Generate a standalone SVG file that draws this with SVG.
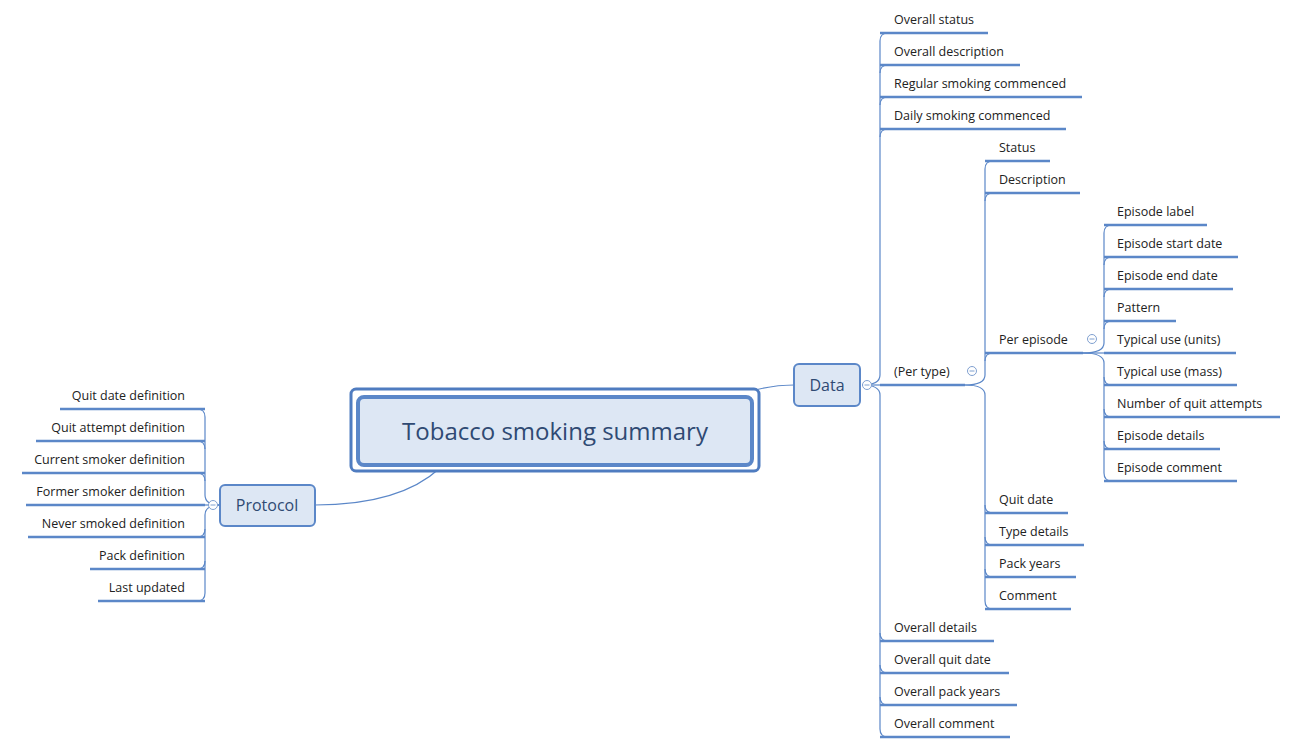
<svg xmlns="http://www.w3.org/2000/svg" width="1303" height="756" viewBox="0 0 1303 756">
<style>
.c{fill:none;stroke:#5b87c8;stroke-width:1.2}
.u{fill:none;stroke:#5b87c8;stroke-width:2.5}
.t{font-family:"Open Sans","DejaVu Sans",sans-serif;font-size:12.5px;fill:#222}
.r{text-anchor:end}
.n{fill:#dde7f4;stroke:#5b87c8;stroke-width:2}
.nt{font-family:"Open Sans","DejaVu Sans",sans-serif;font-size:16px;fill:#2f4a73;text-anchor:middle}
.k{fill:#fff;stroke:#7fa0d0;stroke-width:1}
</style>
<rect width="1303" height="756" fill="#fff"/>
<g id="connectors">
<path class="c" d="M755 390Q775 385 794 385"/>
<path class="c" d="M440 468Q400 505 315 505"/>
<g class="c">
<path d="M862 385Q880 385 880 375V41Q880 33 888 33"/><path d="M880 73Q880 65 888 65"/><path d="M880 105Q880 97 888 97"/><path d="M880 137Q880 129 888 129"/>
<path d="M862 385H880"/>
<path d="M862 385Q880 385 880 395V729Q880 737 888 737"/><path d="M880 633Q880 641 888 641"/><path d="M880 665Q880 673 888 673"/><path d="M880 697Q880 705 888 705"/>
<path d="M965 385Q985 385 985 375V169Q985 161 993 161"/><path d="M985 201Q985 193 993 193"/><path d="M985 361Q985 353 993 353"/>
<path d="M965 385Q985 385 985 395V601Q985 609 993 609"/><path d="M985 505Q985 513 993 513"/><path d="M985 537Q985 545 993 545"/><path d="M985 569Q985 577 993 577"/>
<path d="M1083 353Q1104 353 1104 343V233Q1104 225 1112 225"/><path d="M1104 265Q1104 257 1112 257"/><path d="M1104 297Q1104 289 1112 289"/><path d="M1104 329Q1104 321 1112 321"/>
<path d="M1083 353H1104"/>
<path d="M1083 353Q1104 353 1104 363V473Q1104 481 1112 481"/><path d="M1104 377Q1104 385 1112 385"/><path d="M1104 409Q1104 417 1112 417"/><path d="M1104 441Q1104 449 1112 449"/>
<path d="M220 505Q205 505 205 495V417Q205 409 197 409"/><path d="M205 449Q205 441 197 441"/><path d="M205 481Q205 473 197 473"/>
<path d="M220 505H205"/>
<path d="M220 505Q205 505 205 515V593Q205 601 197 601"/><path d="M205 529Q205 537 197 537"/><path d="M205 561Q205 569 197 569"/>
</g>
</g>
<g id="central">
<rect x="351" y="389" width="408" height="82" rx="5" fill="#fff" stroke="#4f7cc0" stroke-width="3"/>
<rect x="358" y="397" width="394" height="68" rx="6" fill="#dde7f4" stroke="#5b87c8" stroke-width="4"/>
<text x="555" y="440" font-family="'Open Sans','DejaVu Sans',sans-serif" font-size="24" fill="#2f4a73" text-anchor="middle">Tobacco smoking summary</text>
</g>
<g id="data"><rect class="n" x="794" y="364" width="66" height="42" rx="5"/><text class="nt" x="827" y="391">Data</text></g>
<g id="protocol"><rect class="n" x="220" y="485" width="95" height="41" rx="5"/><text class="nt" x="267" y="511">Protocol</text></g>
<g id="data-children">
<path class="u" d="M880 33H988M880 65H1020M880 97H1082M880 129H1066M880 385H965M880 641H994M880 673H1009M880 705H1017M880 737H1010"/>
<text class="t" x="894" y="24">Overall status</text>
<text class="t" x="894" y="56">Overall description</text>
<text class="t" x="894" y="88">Regular smoking commenced</text>
<text class="t" x="894" y="120">Daily smoking commenced</text>
<text class="t" x="894" y="376">(Per type)</text>
<text class="t" x="894" y="632">Overall details</text>
<text class="t" x="894" y="664">Overall quit date</text>
<text class="t" x="894" y="696">Overall pack years</text>
<text class="t" x="894" y="728">Overall comment</text>
</g>
<g id="pertype-children">
<path class="u" d="M985 161H1050M985 193H1080M985 353H1083M985 513H1068M985 545H1084M985 577H1076M985 609H1071"/>
<text class="t" x="999" y="152">Status</text>
<text class="t" x="999" y="184">Description</text>
<text class="t" x="999" y="344">Per episode</text>
<text class="t" x="999" y="504">Quit date</text>
<text class="t" x="999" y="536">Type details</text>
<text class="t" x="999" y="568">Pack years</text>
<text class="t" x="999" y="600">Comment</text>
</g>
<g id="episode-children">
<path class="u" d="M1104 225H1207M1104 257H1238M1104 289H1233M1104 321H1176M1104 353H1236M1104 385H1237M1104 417H1280M1104 449H1220M1104 481H1237"/>
<text class="t" x="1117" y="216">Episode label</text>
<text class="t" x="1117" y="248">Episode start date</text>
<text class="t" x="1117" y="280">Episode end date</text>
<text class="t" x="1117" y="312">Pattern</text>
<text class="t" x="1117" y="344">Typical use (units)</text>
<text class="t" x="1117" y="376">Typical use (mass)</text>
<text class="t" x="1117" y="408">Number of quit attempts</text>
<text class="t" x="1117" y="440">Episode details</text>
<text class="t" x="1117" y="472">Episode comment</text>
</g>
<g id="protocol-children">
<path class="u" d="M205 409H60M205 441H36M205 473H22M205 505H26M205 537H28M205 569H90M205 601H98"/>
<text class="t r" x="185" y="400">Quit date definition</text>
<text class="t r" x="185" y="432">Quit attempt definition</text>
<text class="t r" x="185" y="464">Current smoker definition</text>
<text class="t r" x="185" y="496">Former smoker definition</text>
<text class="t r" x="185" y="528">Never smoked definition</text>
<text class="t r" x="185" y="560">Pack definition</text>
<text class="t r" x="185" y="592">Last updated</text>
</g>
<g id="collapse">
<circle class="k" cx="867" cy="385" r="4.5"/><path d="M864.5 385H869.5" stroke="#7fa0d0"/>
<circle class="k" cx="972" cy="371" r="4.5"/><path d="M969.5 371H974.5" stroke="#7fa0d0"/>
<circle class="k" cx="1092" cy="339" r="4.5"/><path d="M1089.5 339H1094.5" stroke="#7fa0d0"/>
<circle class="k" cx="213" cy="505" r="4.5"/><path d="M210.5 505H215.5" stroke="#7fa0d0"/>
</g>
</svg>
